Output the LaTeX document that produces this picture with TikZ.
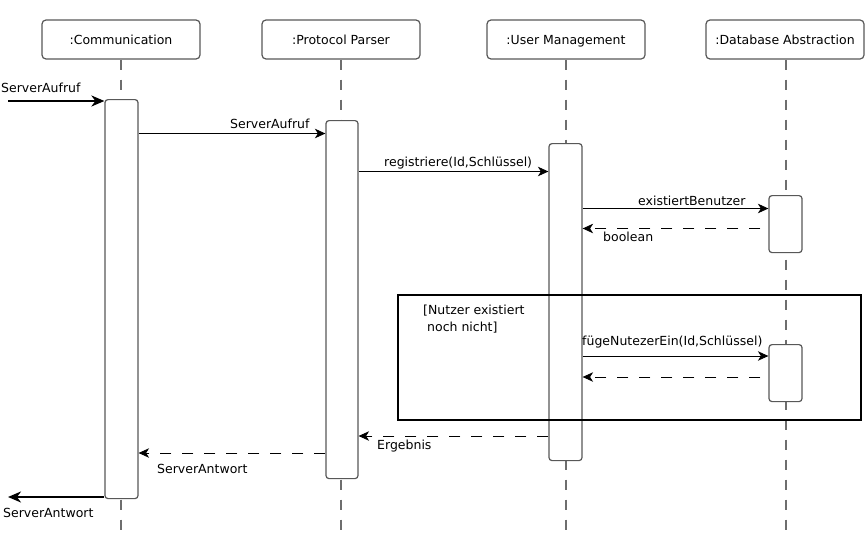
\documentclass[tikz,border=0pt]{standalone}
\usepackage{fontspec}
\setmainfont{DejaVu Sans}
\usetikzlibrary{arrows.meta}
\definecolor{lineg}{RGB}{88,88,88}
\definecolor{lifeg}{RGB}{110,110,110}
\begin{document}
\begin{tikzpicture}[x=1pt,y=-1pt,
  font=\fontsize{12.5}{17}\selectfont,
  head/.style={draw=lineg, line width=1.2pt, rounded corners=4pt, fill=white,
    minimum width=158pt, minimum height=39pt, inner sep=0pt,
    text height=9.2pt, text depth=0pt},
  life/.style={draw=lifeg, line width=1.5pt, dash pattern=on 10.5pt off 9.5pt},
  act/.style={draw=lineg, line width=1.2pt, rounded corners=3pt, fill=white,
    minimum width=33pt, inner sep=0pt, anchor=north},
  msg/.style={draw=black, line width=0.9pt,
    -{Stealth[length=10.5pt,width=9.5pt,inset=3pt]}},
  ret/.style={msg, dash pattern=on 11pt off 11pt},
  ext/.style={draw=black, line width=2pt,
    -{Stealth[length=13pt,width=11pt,inset=4pt]}},
  lbl/.style={inner sep=0pt, anchor=base west},
]
\useasboundingbox (0,0) rectangle (865,538);

% lifeline heads
\node[head] (hC) at (121,39.5) {:Communication};
\node[head] (hP) at (341,39.5) {:Protocol Parser};
\node[head] (hU) at (566,39.5) {:User Management};
\node[head] (hD) at (785,39.5) {:Database Abstraction};

% lifeline ends
\coordinate (eC) at (121,530);
\coordinate (eP) at (341,530);
\coordinate (eU) at (566,530);
\coordinate (eD) at (786,530);

\draw[life] (hC.south) -- (eC);
\draw[life] (hP.south) -- (eP);
\draw[life] (hU.south) -- (eU);
\draw[life] (hD.south -| eD) -- (eD);

% activation bars
\node[act, minimum height=399pt] (aC) at (121.5,99) {};
\node[act, minimum width=32pt, minimum height=358pt] (aP) at (342,120) {};
\node[act, minimum height=317pt] (aU) at (565.5,143) {};
\node[act, minimum height=57pt] (aD1) at (785.5,195) {};
\node[act, minimum height=57pt] (aD2) at (785.5,344) {};

% message heights and free ends
\coordinate (in0) at (8,101);
\coordinate (out0) at (8,497);
\coordinate (y1) at (0,133.5);
\coordinate (y2) at (0,171.5);
\coordinate (y3) at (0,208.5);
\coordinate (y4) at (0,228.5);
\coordinate (y5) at (0,356);
\coordinate (y6) at (0,377);
\coordinate (y7) at (0,436);
\coordinate (y8) at (0,453);

% messages
\draw[ext] (in0) -- (aC.west |- in0);
\draw[msg] (aC.east |- y1) -- (aP.west |- y1);
\draw[msg] (aP.east |- y2) -- (aU.west |- y2);
\draw[msg] (aU.east |- y3) -- (aD1.west |- y3);
\draw[ret, dash phase=14pt] (aD1.west |- y4) -- (aU.east |- y4);
\draw[msg] (aU.east |- y5) -- (aD2.west |- y5);
\draw[ret, dash phase=14pt] (aD2.west |- y6) -- (aU.east |- y6);
\draw[ret] (aU.west |- y7) -- (aP.east |- y7);
\draw[ret] (aP.west |- y8) -- (aC.east |- y8);
\draw[ext] (aC.west |- out0) -- (out0);

% message labels
\node[lbl] (t0) at (1,92) {ServerAufruf};
\node[lbl] (t1) at (230,128) {ServerAufruf};
\node[lbl] (t2) at (384,166) {registriere(Id,Schlüssel)};
\node[lbl] (t3) at (638,205) {existiertBenutzer};
\node[lbl] (t4) at (603,241) {boolean};
\node[lbl] (t5) at (582,345) {fügeNutezerEin(Id,Schlüssel)};
\node[lbl] (t7) at (377,449) {Ergebnis};
\node[lbl] (t8) at (157,473) {ServerAntwort};
\node[lbl] (t9) at (3,517) {ServerAntwort};

% optional fragment
\node[draw=black, line width=2pt, minimum width=463pt, minimum height=125pt,
  inner sep=0pt, anchor=north west] (frag) at (397,294) {};
\node[lbl] (g1) at (423,314) {[Nutzer existiert};
\node[lbl] (g2) at (427,331) {noch nicht]};
\end{tikzpicture}
\end{document}
